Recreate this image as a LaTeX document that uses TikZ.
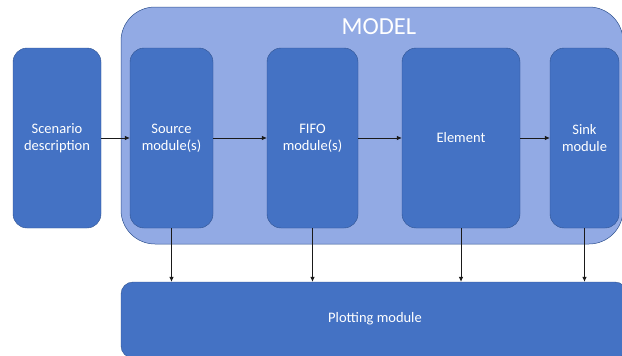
\documentclass[tikz,border=0pt]{standalone}
\usepackage{fontspec}
\setmainfont{Carlito}
\usetikzlibrary{arrows.meta}
\definecolor{boxblue}{HTML}{4472C4}
\definecolor{boxedge}{HTML}{2F528F}
\definecolor{modelblue}{RGB}{146,170,228}
\definecolor{arrowcol}{HTML}{1A1A1A}
\tikzset{
  block/.style={rectangle, rounded corners=14pt, fill=boxblue, draw=boxedge, line width=0.4pt,
    minimum height=180pt, text=white, align=center, inner sep=0pt,
    font=\fontsize{14.5}{17}\selectfont},
  model/.style={rectangle, rounded corners=34pt, fill=modelblue, draw=boxedge, line width=0.5pt, inner sep=0pt},
  plotbox/.style={rectangle, rounded corners=12pt, fill=boxblue, draw=boxedge, line width=0.4pt,
    text=white, inner sep=0pt, font=\fontsize{14.5}{17}\selectfont},
  arr/.style={draw=arrowcol, line width=0.7pt, -{Latex[length=5pt,width=4.5pt]}}
}
\begin{document}
\begin{tikzpicture}[x=1pt,y=-1pt]
\useasboundingbox (0,0) rectangle (622,356);
\node[model, minimum width=502pt, minimum height=237pt] (model) at (372,125.5) {};
\node[text=white, font=\fontsize{24.5}{28}\selectfont] (mlabel) at (379,27) {MODEL};
\node[block, minimum width=88pt] (scen) at (57,138) {Scenario\\description};
\node[block, minimum width=83pt] (src) at (171.5,138) {Source\\module(s)};
\node[block, minimum width=91pt] (fifo) at (312.5,138) {FIFO\\module(s)};
\node[block, minimum width=118pt] (elem) at (461,138) {Element};
\node[block, minimum width=69pt] (sink) at (584.5,138) {Sink\\module};
\node[plotbox, minimum width=506pt, minimum height=76pt] (plot) at (374,320) {};
\node[text=white, font=\fontsize{14.5}{17}\selectfont] (plabel) at (375,319) {Plotting module};
\draw[arr] (scen.east) -- (src.west);
\draw[arr] (src.east) -- (fifo.west);
\draw[arr] (fifo.east) -- (elem.west);
\draw[arr] (elem.east) -- (sink.west);
\draw[arr] (src.south) -- (src.south |- plot.north);
\draw[arr] (fifo.south) -- (fifo.south |- plot.north);
\draw[arr] (elem.south) -- (elem.south |- plot.north);
\draw[arr] (sink.south) -- (sink.south |- plot.north);
\end{tikzpicture}
\end{document}
